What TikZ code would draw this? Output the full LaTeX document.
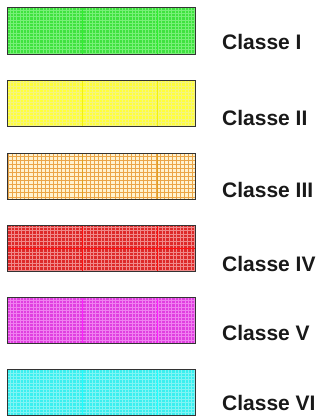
\documentclass[tikz,border=0pt]{standalone}
\usepackage{fontspec}
\setmainfont{Liberation Sans}
\definecolor{gfill}{HTML}{3FE23F}
\definecolor{gminor}{HTML}{78F078}
\definecolor{gmajor}{HTML}{30F030}
\definecolor{yfill}{HTML}{FFFF3A}
\definecolor{yminor}{HTML}{F4F480}
\definecolor{ymajor}{HTML}{F0F010}
\definecolor{ofill}{HTML}{FFF2CF}
\definecolor{ominor}{HTML}{EBA547}
\definecolor{omajor}{HTML}{E0A020}
\definecolor{rfill}{HTML}{DD2A2A}
\definecolor{rminor}{HTML}{F08A8A}
\definecolor{rmajor}{HTML}{FF1010}
\definecolor{mfill}{HTML}{E03FE0}
\definecolor{mminor}{HTML}{F080F0}
\definecolor{mmajor}{HTML}{FF20FF}
\definecolor{cfill}{HTML}{3AEFEF}
\definecolor{cminor}{HTML}{80F4F4}
\definecolor{cmajor}{HTML}{20FFFF}
\definecolor{edge}{HTML}{333333}
\tikzset{
  box/.style={draw=edge, line width=1pt, minimum width=188pt, minimum height=46.5pt, inner sep=0pt, outer sep=0pt},
  lbl/.style={font=\fontsize{21}{24}\selectfont\bfseries, inner sep=0pt, text=black!90}
}
\newcommand\gridbox[7]{% name, top, fill, minor, major, step, label
  \node[box, fill=#3, anchor=north west] (#1) at (7pt,-#2pt) {};
  \begin{scope}
    \clip (#1.south west) rectangle (#1.north east);
    \draw[#4, line width=0.5pt, step=#6pt] (#1.south west) grid (#1.north east);
    \draw[#5, line width=0.9pt] (82pt,-#2pt) -- ++(0,-46.5pt)
      (157pt,-#2pt) -- ++(0,-46.5pt);
  \end{scope}
  \draw[edge, line width=1pt] (#1.south west) rectangle (#1.north east);
}
\begin{document}
\begin{tikzpicture}
\useasboundingbox (0,0) rectangle (322pt,-420pt);
\gridbox{b1}{8}{gfill}{gminor}{gmajor}{3.3}{}
\gridbox{b2}{80}{yfill}{yminor}{ymajor}{3.3}{}
\gridbox{b3}{153}{ofill}{ominor}{omajor}{4.1}{}
\gridbox{b4}{225}{rfill}{rminor}{rmajor}{3.6}{}
\gridbox{b5}{297}{mfill}{mminor}{mmajor}{3.3}{}
\gridbox{b6}{369}{cfill}{cminor}{cmajor}{3.3}{}
\begin{scope}
  \clip (b4.south west) rectangle (b4.north east);
  \draw[rmajor, line width=0.9pt] (b4.west) -- (b4.east);
\end{scope}
\draw[edge, line width=1pt] (b4.south west) rectangle (b4.north east);
\node[lbl, anchor=base west] (t1) at (222pt,-50pt) {Classe I};
\node[lbl, anchor=base west] (t2) at (222pt,-125pt) {Classe II};
\node[lbl, anchor=base west] (t3) at (222pt,-197pt) {Classe III};
\node[lbl, anchor=base west] (t4) at (222pt,-271pt) {Classe IV};
\node[lbl, anchor=base west] (t5) at (222pt,-340pt) {Classe V};
\node[lbl, anchor=base west] (t6) at (222pt,-410pt) {Classe VI};
\end{tikzpicture}
\end{document}
